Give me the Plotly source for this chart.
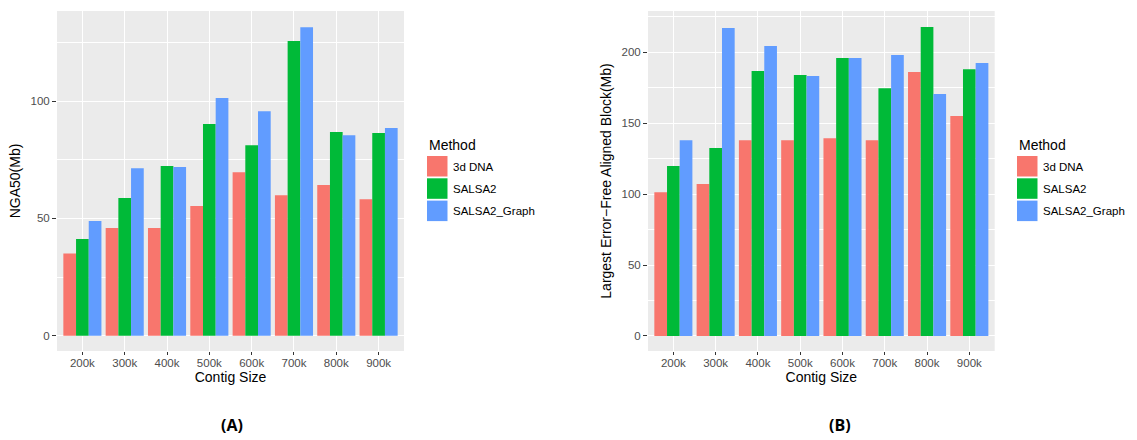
import plotly.graph_objects as go

categories = ["200k", "300k", "400k", "500k", "600k", "700k", "800k", "900k"]
methods = ["3d DNA", "SALSA2", "SALSA2_Graph"]
colors = ["#F8766D", "#00BA38", "#619CFF"]

nga50_3ddna = [35.1, 45.9, 45.9, 55.3, 69.7, 59.9, 64.2, 58.2]
nga50_salsa2 = [41.2, 58.7, 72.3, 90.2, 81.2, 125.6, 86.8, 86.4]
nga50_graph = [48.9, 71.4, 71.9, 101.3, 95.7, 131.5, 85.5, 88.5]

block_3ddna = [101.4, 107.1, 138.1, 138.1, 139.5, 138.1, 186.1, 155.1]
block_salsa2 = [119.8, 132.5, 186.8, 184.0, 196.0, 174.8, 217.9, 188.2]
block_graph = [138.1, 217.2, 204.5, 183.3, 196.0, 198.1, 170.6, 192.5]

W, H = 1137, 440
fig = go.Figure()

panels = [
    ("x", "y", [nga50_3ddna, nga50_salsa2, nga50_graph]),
    ("x2", "y2", [block_3ddna, block_salsa2, block_graph]),
]
for xa, ya, series in panels:
    for name, col, vals in zip(methods, colors, series):
        fig.add_trace(go.Bar(x=categories, y=vals, name=name, marker_color=col,
                             marker_line_width=0, xaxis=xa, yaxis=ya,
                             showlegend=False, offsetgroup=name))

tickfont = dict(family="Liberation Sans, Arial", size=11.5, color="#4D4D4D")
titlefont = dict(family="Liberation Sans, Arial", size=14, color="#000000")

def xax(domain, anchor):
    return dict(domain=domain, anchor=anchor, type="category",
                range=[-0.6, 7.6], showgrid=True, gridcolor="white", gridwidth=1.2,
                ticks="outside", ticklen=3, tickcolor="#333333", tickwidth=1,
                ticklabelstandoff=-2,
                tickfont=tickfont, zeroline=False, showline=False,
                title=dict(text="Contig Size", font=titlefont, standoff=3),
                fixedrange=True)

def yax(domain, anchor, rng, dtick, title):
    return dict(domain=domain, anchor=anchor, range=rng, dtick=dtick, tick0=0,
                showgrid=True, gridcolor="white", gridwidth=1.2,
                minor=dict(dtick=dtick / 2, tick0=0, showgrid=True, gridcolor="white",
                           gridwidth=0.6, ticks=""),
                ticks="outside", ticklen=4, tickcolor="#333333", tickwidth=1,
                tickfont=tickfont, zeroline=False, showline=False,
                title=dict(text=title, font=titlefont, standoff=6),
                fixedrange=True)

ydom = [1 - 351 / H, 1 - 11 / H]
fig.update_layout(
    width=W, height=H,
    margin=dict(l=0, r=0, t=0, b=0),
    paper_bgcolor="white", plot_bgcolor="#EBEBEB",
    barmode="group", bargap=0.1, bargroupgap=0,
    xaxis=xax([57 / W, 404 / W], "y"),
    yaxis=yax(ydom, "x", [-6.5, 138.4], 50, "NGA50(Mb)"),
    xaxis2=xax([648 / W, 994.7 / W], "y2"),
    yaxis2=yax(ydom, "x2", [-10.6, 229.2], 50, "Largest Error\u2212Free Aligned Block(Mb)"),
    font=dict(family="Liberation Sans, Arial"),
)

# Manual legends (ggplot-style square keys)
shapes = []
annotations = []
for lx in (427, 1017):
    annotations.append(dict(x=lx / W, y=1 - 145 / H, xref="paper", yref="paper",
                            text="Method", showarrow=False, xanchor="left", yanchor="middle",
                            font=dict(family="Liberation Sans, Arial", size=14, color="#000")))
    for i, (name, col) in enumerate(zip(methods, colors)):
        top = 156 + i * 22.3
        shapes.append(dict(type="rect", xref="paper", yref="paper",
                           x0=lx / W, x1=(lx + 20.5) / W,
                           y0=1 - (top + 20.5) / H, y1=1 - top / H,
                           fillcolor=col, line=dict(width=0)))
        annotations.append(dict(x=(lx + 24) / W, y=1 - (top + 10.5) / H, xref="paper", yref="paper",
                                text=name, showarrow=False, xanchor="left", yanchor="middle",
                                font=dict(family="Liberation Sans, Arial", size=11.5, color="#000")))

for txt, cx in (("(A)", 232), ("(B)", 840)):
    annotations.append(dict(x=cx / W, y=1 - 425 / H, xref="paper", yref="paper",
                            text="<b>" + txt + "</b>", showarrow=False, xanchor="center",
                            yanchor="middle",
                            font=dict(family="Open Sans, Liberation Sans", size=16, color="#000")))

fig.update_layout(shapes=shapes, annotations=annotations)
fig.write_html("out.html")
